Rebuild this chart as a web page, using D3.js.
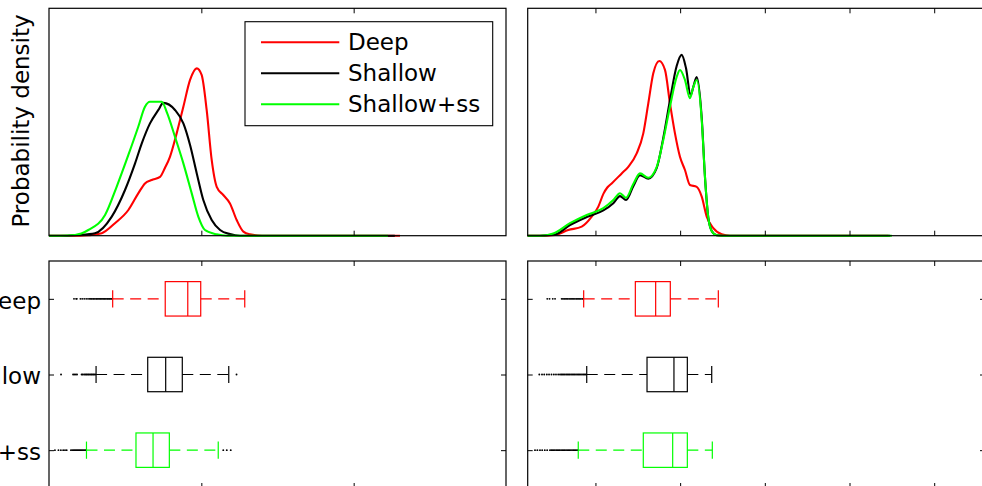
<!DOCTYPE html>
<html>
<head>
<meta charset="utf-8">
<script src="https://cdn.jsdelivr.net/npm/d3@7"></script>
<style>
  html, body { margin: 0; padding: 0; background: #fff; }
  svg { display: block; }
  text { font-family: "DejaVu Sans", "Liberation Sans", Arial, sans-serif; }
</style>
</head>
<body>
<svg id="fig" width="982" height="486"></svg>
<script>
// ---- series ----
const seriesNames = ["Deep", "Shallow", "Shallow+ss"];
const seriesColors = ["#ff0000", "#000000", "#00ff00"];

// ---- kernel density estimates, [value, density] ----
// left column
const deepDensityA = [[0,0],[2.03,0],[2.58,0.002],[3.46,0.011],[4.33,0.055],[5.21,0.113],[5.86,0.186],[6.30,0.230],[6.74,0.245],[7.29,0.259],[7.61,0.298],[7.94,0.347],[8.38,0.450],[8.82,0.567],[9.26,0.685],[9.70,0.736],[10.02,0.707],[10.35,0.553],[10.68,0.333],[11.01,0.215],[11.44,0.179],[11.88,0.142],[12.32,0.069],[12.76,0.018],[13.19,0.006],[13.98,0],[23.04,0]];
const shallowDensityA = [[0,0],[1.02,0],[1.92,0.003],[3.02,0.011],[4.12,0.084],[4.99,0.201],[5.65,0.318],[6.09,0.406],[6.63,0.494],[7.18,0.553],[7.50,0.584],[8.27,0.553],[8.82,0.494],[9.26,0.399],[9.70,0.274],[10.13,0.157],[10.68,0.069],[11.23,0.025],[11.88,0.007],[12.54,0],[22.7,0]];
const shallowSsDensityA = [[0,0],[0.72,0],[1.71,0.003],[2.58,0.025],[3.68,0.091],[4.44,0.215],[5.21,0.355],[5.86,0.479],[6.30,0.567],[6.63,0.589],[7.40,0.589],[7.75,0.540],[8.27,0.435],[8.82,0.318],[9.37,0.186],[9.80,0.084],[10.24,0.025],[11.01,0.006],[11.69,0],[22.25,0]];

// right column
const deepDensityB = [[20,0],[40.4,0],[52.2,0.003],[67.9,0.025],[83.8,0.040],[95.6,0.084],[103.4,0.128],[109.5,0.185],[114.0,0.212],[119.2,0.230],[131.0,0.274],[138.8,0.303],[148.7,0.362],[156.5,0.450],[162.4,0.582],[168.3,0.714],[175.4,0.768],[182.1,0.729],[188.0,0.582],[193.9,0.450],[199.8,0.347],[205.7,0.289],[211.6,0.223],[219.6,0.215],[225.5,0.172],[231.4,0.084],[239.2,0.033],[249.1,0.006],[258.9,0],[446,0]];
const shallowDensityB = [[20,0],[34.5,0],[52.2,0.005],[69.9,0.047],[89.7,0.082],[109.3,0.111],[121.1,0.143],[129.0,0.174],[136.1,0.157],[144.7,0.218],[152.6,0.266],[162.4,0.251],[172.3,0.297],[180.1,0.430],[188.0,0.596],[195.9,0.746],[201.8,0.795],[206.9,0.737],[212.4,0.618],[215.8,0.658],[219.6,0.698],[225.5,0.518],[229.4,0.254],[233.3,0.078],[237.3,0.021],[243.2,0.002],[249.4,0],[448,0]];
const shallowSsDensityB = [[20,0],[34.5,0],[50.2,0.010],[69.9,0.055],[89.7,0.091],[109.3,0.121],[121.1,0.157],[129.0,0.187],[136.1,0.167],[144.7,0.227],[152.6,0.274],[162.4,0.255],[172.3,0.302],[180.1,0.421],[188.0,0.568],[195.9,0.698],[199.8,0.729],[205.7,0.685],[211.6,0.605],[215.2,0.649],[219.6,0.685],[225.5,0.509],[229.4,0.254],[233.3,0.078],[237.3,0.021],[243.2,0.002],[249.4,0],[450,0]];

// ---- box plot statistics, one entry per series ----
const whiskerLowA  = [4.18, 3.09, 2.46];
const q1A          = [7.63, 6.48, 5.71];
const medianA      = [9.11, 7.66, 6.83];
const q3A          = [9.96, 8.75, 7.90];
const whiskerHighA = [12.85, 11.80, 11.11];

const whiskerLowB  = [86.1, 89.7, 79.7];
const q1B          = [147.1, 160.9, 156.5];
const medianB      = [171.1, 192.7, 191.2];
const q3B          = [188.4, 208.5, 208.5];
const whiskerHighB = [245.1, 237.3, 238.0];

// outliers
const deepOutA = [1.64,1.78,1.83,2.06,2.18,2.31,2.44,2.56,2.66,2.74,2.81,2.89,2.95,3.02,3.10,3.16,3.23,3.31,3.38,3.44,3.52,3.59,3.65,3.72,3.80,3.86,3.93,3.99,4.06,4.12];
const shallowOutA = [0.79,1.58,1.66,1.76,1.84,2.14,2.21,2.30,2.37,2.44,2.50,2.57,2.63,2.70,2.77,2.83,2.90,2.96,3.03,12.31];
const shallowSsOutA = [0.39,0.62,0.78,0.93,1.05,1.16,1.44,1.52,1.60,1.67,1.74,1.81,1.88,1.95,2.02,2.09,2.16,2.23,2.30,2.37,2.43,11.44,11.67,11.93];

const deepOutB = [43.1,45.8,49.6,52.3,60.1,61.6,63.0,64.3,65.9,67.2,68.8,70.1,71.5,73.0,74.4,75.8,77.3,78.6,80.1,81.5,82.8,84.3,85.4];
const shallowOutB = [33.7,36.9,39.5,42.6,45.2,48.1,50.9,53.4,56.0,58.1,59.6,61.0,62.5,63.9,65.4,66.8,68.3,69.7,71.2,72.6,74.1,75.5,77.0,78.4,79.9,81.3,82.8,84.2,85.7,87.1,88.6];
const shallowSsOutB = [28.6,31.4,34.5,37.1,40.2,43.0,46.3,47.8,49.2,50.7,52.1,53.6,55.0,56.5,57.9,59.4,60.8,62.3,63.7,65.2,66.6,68.1,69.5,71.0,72.4,73.9,75.3,76.8,78.2,79.4];

// ---- axes ----
const xDomainA = [0, 30];
const xTicksA = [10, 20];
const xDomainB = [20, 560];
const xTicksB = [100, 200, 300, 400, 500];
const densityDomain = [0, 1];
const yAxisTitle = "Probability density";

// ---- layout ----
const svg = d3.select("#fig");
svg.append("rect").attr("width", 982).attr("height", 486).attr("fill", "#fff");

const colA = { x0: 49, x1: 506 };
const colB = { x0: 527.7, x1: 985 };
const rowTop = { y0: 8.3, y1: 235.7 };
const rowBot = { y0: 261, y1: 488 };
const FONT = 23, TICK = 5;
const FAMILY = "'DejaVu Sans', 'Liberation Sans', Arial, sans-serif";

function frame(g, col, row) {
  g.append("rect")
    .attr("x", col.x0).attr("y", row.y0)
    .attr("width", col.x1 - col.x0).attr("height", row.y1 - row.y0)
    .attr("fill", "none").attr("stroke", "#000").attr("stroke-width", 1.2);
}

function xTickMarks(g, x, ticks, row) {
  const clean = a => { a.select(".domain").remove(); a.selectAll(".tick line").attr("stroke-width", 1); };
  g.append("g").attr("transform", `translate(0,${row.y1})`)
    .call(d3.axisBottom(x).tickValues(ticks).tickSize(-TICK).tickFormat("")).call(clean);
  g.append("g").attr("transform", `translate(0,${row.y0})`)
    .call(d3.axisTop(x).tickValues(ticks).tickSize(-TICK).tickFormat("")).call(clean);
}

function densityPanel(col, xDomain, xTicks, curves) {
  const g = svg.append("g");
  const x = d3.scaleLinear().domain(xDomain).range([col.x0, col.x1]);
  const y = d3.scaleLinear().domain(densityDomain).range([rowTop.y1, rowTop.y0]);
  const line = d3.line().x(d => x(d[0])).y(d => y(d[1])).curve(d3.curveMonotoneX);
  curves.forEach((c, i) => {
    g.append("path").attr("d", line(c))
      .attr("fill", "none").attr("stroke", seriesColors[i])
      .attr("stroke-width", 2.1).attr("stroke-linejoin", "round");
  });
  frame(g, col, rowTop);
  xTickMarks(g, x, xTicks, rowTop);
  return g;
}

function boxPanel(col, xDomain, xTicks, lo, q1, med, q3, hi, outliers, showLabels) {
  const g = svg.append("g");
  const x = d3.scaleLinear().domain(xDomain).range([col.x0, col.x1]);
  const y = d3.scalePoint().domain(seriesNames).range([rowBot.y0, rowBot.y1]).padding(0.5);
  const bh = y.step() * 0.455;
  const sw = 1.2;

  seriesNames.forEach((name, i) => {
    const cy = y(name), c = seriesColors[i];
    const s = g.append("g");
    // outliers
    s.selectAll("circle").data(outliers[i]).join("circle")
      .attr("cx", d => x(d)).attr("cy", cy).attr("r", 0.95).attr("fill", "#000");
    // whiskers
    s.append("line").attr("x1", x(lo[i])).attr("x2", x(q1[i])).attr("y1", cy).attr("y2", cy)
      .attr("stroke", c).attr("stroke-width", sw).attr("stroke-dasharray", "11,6.5");
    s.append("line").attr("x1", x(q3[i])).attr("x2", x(hi[i])).attr("y1", cy).attr("y2", cy)
      .attr("stroke", c).attr("stroke-width", sw).attr("stroke-dasharray", "11,6.5");
    // whisker caps
    [lo[i], hi[i]].forEach(v => {
      s.append("line").attr("x1", x(v)).attr("x2", x(v))
        .attr("y1", cy - bh / 4).attr("y2", cy + bh / 4)
        .attr("stroke", c).attr("stroke-width", sw);
    });
    // box and median
    s.append("rect").attr("x", x(q1[i])).attr("y", cy - bh / 2)
      .attr("width", x(q3[i]) - x(q1[i])).attr("height", bh)
      .attr("fill", "none").attr("stroke", c).attr("stroke-width", sw);
    s.append("line").attr("x1", x(med[i])).attr("x2", x(med[i]))
      .attr("y1", cy - bh / 2).attr("y2", cy + bh / 2)
      .attr("stroke", c).attr("stroke-width", sw);
  });

  frame(g, col, rowBot);
  xTickMarks(g, x, xTicks, rowBot);

  const left = g.append("g").attr("transform", `translate(${col.x0},0)`)
    .call(d3.axisLeft(y).tickSize(-TICK).tickPadding(8));
  left.select(".domain").remove();
  left.selectAll(".tick line").attr("stroke-width", 1);
  left.selectAll(".tick text")
    .attr("font-size", FONT).attr("dy", "0.4em")
    .attr("fill", "#000").style("display", showLabels ? null : "none")
    .attr("font-family", FAMILY);

  const right = g.append("g").attr("transform", `translate(${col.x1},0)`)
    .call(d3.axisRight(y).tickSize(-TICK).tickFormat(""));
  right.select(".domain").remove();
  right.selectAll(".tick line").attr("stroke-width", 1);
}

// ---- draw ----
const topLeft = densityPanel(colA, xDomainA, xTicksA, [deepDensityA, shallowDensityA, shallowSsDensityA]);
densityPanel(colB, xDomainB, xTicksB, [deepDensityB, shallowDensityB, shallowSsDensityB]);

boxPanel(colA, xDomainA, xTicksA, whiskerLowA, q1A, medianA, q3A, whiskerHighA,
  [deepOutA, shallowOutA, shallowSsOutA], true);
boxPanel(colB, xDomainB, xTicksB, whiskerLowB, q1B, medianB, q3B, whiskerHighB,
  [deepOutB, shallowOutB, shallowSsOutB], false);

// y-axis title of the density row
svg.append("text")
  .attr("transform", `translate(29,${(rowTop.y0 + rowTop.y1) / 2 - 1}) rotate(-90)`)
  .attr("text-anchor", "middle").attr("font-size", FONT)
  .attr("fill", "#000").text(yAxisTitle);

// legend
const legend = topLeft.append("g");
legend.append("rect").attr("x", 245).attr("y", 21.7).attr("width", 247.7).attr("height", 104)
  .attr("fill", "#fff").attr("stroke", "#000").attr("stroke-width", 1.1);
const legendRow = d3.scalePoint().domain(seriesNames).range([42.3, 104.3]);
seriesNames.forEach((name, i) => {
  const ly = legendRow(name);
  legend.append("line").attr("x1", 261).attr("x2", 339.3).attr("y1", ly).attr("y2", ly)
    .attr("stroke", seriesColors[i]).attr("stroke-width", 2);
  legend.append("text").attr("x", 348).attr("y", ly + 8)
    .attr("font-size", FONT).attr("fill", "#000").text(name);
});
</script>
</body>
</html>
